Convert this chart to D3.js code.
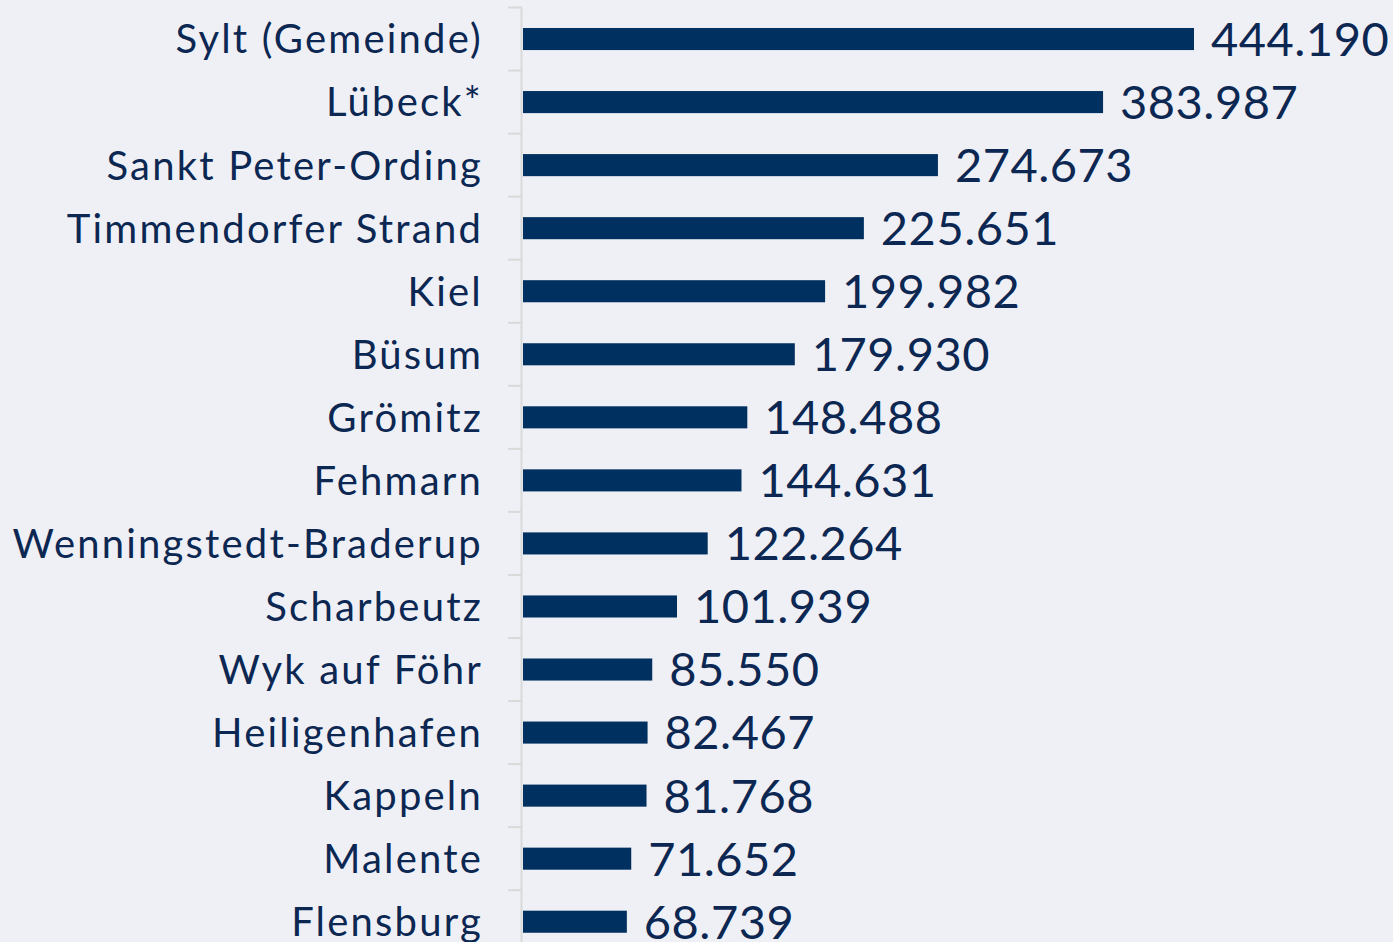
<!DOCTYPE html>
<html>
<head>
<meta charset="utf-8">
<script src="https://cdn.jsdelivr.net/npm/d3@7"></script>
<style>
  body { margin: 0; background: #eff0f6; }
  svg { display: block; }
</style>
</head>
<body>
<svg id="drawing_region"></svg>
<script>
const places = ["Sylt (Gemeinde)", "Lübeck*", "Sankt Peter-Ording", "Timmendorfer Strand", "Kiel", "Büsum",
                "Grömitz", "Fehmarn", "Wenningstedt-Braderup", "Scharbeutz", "Wyk auf Föhr", "Heiligenhafen",
                "Kappeln", "Malente", "Flensburg"];
const guests = [444190, 383987, 274673, 225651, 199982, 179930, 148488, 144631, 122264, 101939,
                85550, 82467, 81768, 71652, 68739];

const data = places.map((p, i) => ({ name: p, value: guests[i] }));

const width = 1393, height = 942;
const margin = { top: 7.5, left: 523 };
const navy = "#00305f";
const fmt = v => d3.format(",")(v).replace(/,/g, ".");

const svg = d3.select("#drawing_region")
    .attr("width", width)
    .attr("height", height);

const xscale = d3.scaleLinear()
    .domain([0, 444190])
    .range([margin.left, margin.left + 671]);

const yscale = d3.scaleBand()
    .domain(places)
    .range([margin.top, margin.top + 63.05 * places.length])
    .paddingInner(0.65)
    .paddingOuter(0.325);

// axis line and separator ticks
const step = yscale.step();
svg.append("line")
    .attr("x1", 521.5).attr("x2", 521.5)
    .attr("y1", margin.top).attr("y2", height)
    .attr("stroke", "#d9d9d9").attr("stroke-width", 2);

svg.selectAll(".sep")
    .data(d3.range(places.length + 1))
    .enter()
    .append("line")
    .attr("class", "sep")
    .attr("x1", 508).attr("x2", 522)
    .attr("y1", i => margin.top + i * step)
    .attr("y2", i => margin.top + i * step)
    .attr("stroke", "#d9d9d9").attr("stroke-width", 2);

svg.selectAll("rect")
    .data(data)
    .enter()
    .append("rect")
    .attr("x", xscale(0))
    .attr("y", d => yscale(d.name))
    .attr("width", d => xscale(d.value) - xscale(0))
    .attr("height", yscale.bandwidth())
    .attr("fill", navy);

svg.selectAll(".cat")
    .data(data)
    .enter()
    .append("text")
    .attr("class", "cat")
    .attr("x", 483)
    .attr("y", d => yscale(d.name) + yscale.bandwidth() / 2)
    .attr("dy", "0.36em")
    .attr("text-anchor", "end")
    .attr("font-family", "Lato, sans-serif")
    .attr("font-size", "40px")
    .attr("letter-spacing", "2.2px")
    .attr("fill", "#0b2752")
    .text(d => d.name);

svg.selectAll(".val")
    .data(data)
    .enter()
    .append("text")
    .attr("class", "val")
    .attr("x", d => xscale(d.value) + 17)
    .attr("y", d => yscale(d.name) + yscale.bandwidth() / 2)
    .attr("dy", "0.36em")
    .attr("font-family", "Lato, sans-serif")
    .attr("font-size", "47px")
    .attr("letter-spacing", "0.5px")
    .attr("fill", "#0b2752")
    .text(d => fmt(d.value));
</script>
</body>
</html>
